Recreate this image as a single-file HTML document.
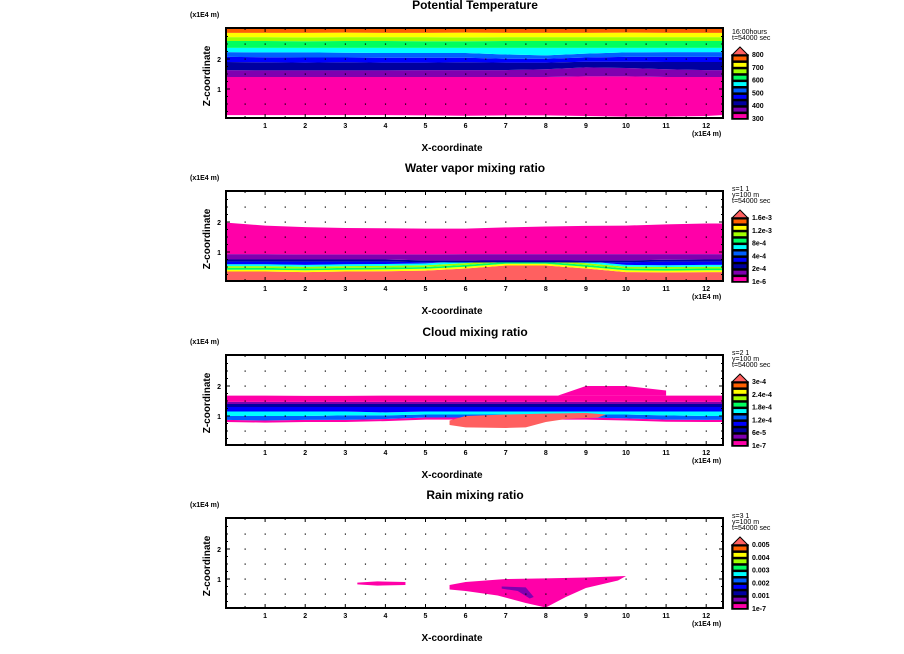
<!DOCTYPE html>
<html><head><meta charset="utf-8"><style>
html,body{margin:0;padding:0;background:#fff;}
svg{display:block;font-family:"Liberation Sans",sans-serif;}
.t{font-size:12px;font-weight:bold;}
.s{font-size:7px;font-weight:bold;}
.a{font-size:10px;font-weight:bold;}
</style></head><body>
<svg id="chart" width="904" height="654" viewBox="0 0 904 654"></svg>
<script>
// ---------- data ----------
const xs = [0,1,2,3,4,5,6,7,8,9,10,11,12,12.4];
const colors = ["#ff00a8","#8000b0","#0000a0","#0000ff","#0060ff","#00ffff","#00ff60","#a0ff00","#ffff00","#ff6000"];
const salmon = "#ff6060";
const titles = ["Potential Temperature","Water vapor mixing ratio","Cloud mixing ratio","Rain mixing ratio"];
const infoLines = [["16:00hours","t=54000 sec"],["s=1 1","y=100 m","t=54000 sec"],["s=2 1","y=100 m","t=54000 sec"],["s=3 1","y=100 m","t=54000 sec"]];
const legendLabels = [
 ["300","400","500","600","700","800"],
 ["1e-6","2e-4","4e-4","8e-4","1.2e-3","1.6e-3"],
 ["1e-7","6e-5","1.2e-4","1.8e-4","2.4e-4","3e-4"],
 ["1e-7","0.001","0.002","0.003","0.004","0.005"]
];
const xTicks = [1,2,3,4,5,6,7,8,9,10,11,12];
const zTicks = [1,2];

const p1b = [
 [0.13,0.13,0.13,0.13,0.13,0.12,0.11,0.12,0.12,0.1,0.08,0.08,0.1,0.13],
 [1.4,1.4,1.4,1.4,1.4,1.4,1.4,1.4,1.4,1.42,1.42,1.4,1.4,1.4],
 [1.63,1.62,1.62,1.62,1.62,1.63,1.63,1.63,1.66,1.72,1.7,1.66,1.63,1.63],
 [1.9,1.89,1.88,1.89,1.88,1.88,1.89,1.88,1.88,1.91,1.91,1.9,1.9,1.9],
 [2.07,2.06,2.05,2.05,2.04,2.04,2.04,2.01,2.01,2.05,2.07,2.07,2.07,2.07],
 [2.23,2.22,2.22,2.21,2.2,2.2,2.2,2.15,2.12,2.18,2.22,2.23,2.23,2.23],
 [2.37,2.37,2.37,2.37,2.37,2.37,2.37,2.37,2.37,2.37,2.37,2.37,2.37,2.37],
 [2.6,2.6,2.59,2.6,2.6,2.59,2.59,2.6,2.6,2.6,2.6,2.6,2.6,2.6],
 [2.73,2.73,2.72,2.73,2.73,2.73,2.72,2.73,2.73,2.73,2.73,2.73,2.73,2.73],
 [2.87,2.87,2.87,2.88,2.87,2.87,2.88,2.87,2.87,2.87,2.88,2.87,2.87,2.87],
 [3.03,3.03,3.03,3.03,3.03,3.03,3.03,3.03,3.03,3.03,3.03,3.03,3.03,3.03]
];
const p2Salmon = [0.35,0.35,0.33,0.35,0.36,0.38,0.45,0.55,0.55,0.45,0.33,0.32,0.33,0.33];
const p2b = [
 [0.35,0.35,0.33,0.35,0.36,0.38,0.45,0.55,0.55,0.45,0.33,0.32,0.33,0.33],
 [0.68,0.68,0.68,0.68,0.68,0.66,0.65,0.66,0.66,0.65,0.66,0.68,0.68,0.68],
 [0.75,0.75,0.75,0.75,0.75,0.72,0.72,0.72,0.72,0.72,0.72,0.74,0.75,0.75],
 [0.93,0.93,0.92,0.92,0.92,0.92,0.93,0.93,0.93,0.93,0.93,0.93,0.93,0.93],
 [1.98,1.88,1.83,1.8,1.79,1.78,1.78,1.82,1.85,1.87,1.88,1.92,1.95,1.95]
];
const p2Colors = [5,2,1,0];
const p2Thin = [8,6,7,5];
const p3b = [
 [0.87,0.85,0.87,0.87,0.9,0.95,0.95,0.95,0.95,0.95,0.92,0.88,0.87,0.87],
 [1.0,1.0,1.0,1.02,1.02,1.05,1.05,1.05,1.05,1.05,1.05,1.02,1.0,1.0],
 [1.15,1.15,1.15,1.15,1.12,1.15,1.15,1.15,1.15,1.15,1.15,1.15,1.15,1.15],
 [1.3,1.3,1.3,1.3,1.3,1.3,1.3,1.3,1.3,1.3,1.3,1.3,1.3,1.3],
 [1.4,1.4,1.4,1.4,1.4,1.4,1.4,1.4,1.4,1.4,1.4,1.4,1.4,1.4],
 [1.47,1.47,1.47,1.47,1.47,1.47,1.47,1.47,1.47,1.47,1.47,1.47,1.47,1.47],
 [1.68,1.68,1.67,1.67,1.68,1.68,1.68,1.68,1.68,1.68,1.68,1.68,1.68,1.68]
];
const p3Colors = [4,5,3,2,1,0];
const p3BlobX = [5.6,6.0,7.0,8.0,9.0,9.5,9.3,8.5,8.0,7.5,7.0,6.0,5.6];
const p3BlobZ = [0.85,1.0,1.05,1.08,1.1,1.05,0.95,0.9,0.8,0.62,0.6,0.62,0.7];
const p3LumpX = [8.3,9.0,10.0,11.0,11.0,9.5,8.3];
const p3LumpZ = [1.68,2.0,2.0,1.85,1.68,1.68,1.68];
const p4BlobX = [5.6,6.0,7.0,8.0,9.0,10.0,9.8,9.0,8.5,8.0,7.5,6.8,6.0,5.6];
const p4BlobZ = [0.8,0.9,1.0,1.02,1.05,1.1,0.95,0.7,0.4,0.05,0.2,0.45,0.6,0.65];
const p4SmallX = [3.3,3.8,4.5,4.5,3.8,3.3];
const p4SmallZ = [0.88,0.92,0.9,0.8,0.78,0.82];
const p4DarkX = [6.9,7.5,7.7,7.6,7.3,6.9];
const p4DarkZ = [0.75,0.72,0.4,0.35,0.6,0.68];

// ---------- geometry ----------
const svg = document.getElementById('chart');
const NS = "http://www.w3.org/2000/svg";
const X0 = 225, XU = 40.1, XL = 226, XR = 723;
const tops = [28, 191, 355, 518];
const H = 90, ZU = 30;
function px(x){ return X0 + x*XU; }
function pz(i,z){ return tops[i] + H - z*ZU + 1; }
function mk(tag, attrs, parent){ const e=document.createElementNS(NS,tag); for(const k in attrs) e.setAttribute(k,attrs[k]); (parent||svg).appendChild(e); return e; }
function band(i, lo, hi, fill, g){
  let pts = xs.map((x,k)=>px(x)+','+pz(i,hi[k]));
  for(let k=xs.length-1;k>=0;k--) pts.push(px(xs[k])+','+pz(i,lo[k]));
  const p = mk('polygon',{points:pts.join(' '),fill:fill},g);
  
  
}
function blob(i, bx, bz, fill, g, name){
  const p = mk('polygon',{points:bx.map((x,k)=>px(x)+','+pz(i,bz[k])).join(' '),fill:fill},g);
  
  
}
function addOff(arr, d){ return arr.map(v=>v+d); }

for(let i=0;i<4;i++){
  const g = mk('g',{});
  
  
  const clipId='c'+i;
  const cp = mk('clipPath',{id:clipId},g);
  mk('rect',{x:XL,y:tops[i],width:XR-XL,height:H},cp);
  const f = mk('g',{'clip-path':'url(#'+clipId+')'},g);
  if(i===0){
    for(let k=0;k<10;k++) band(0,p1b[k],p1b[k+1],colors[k],f);
  } else if(i===1){
    band(1,xs.map(()=>-0.1),p2Salmon,salmon,f);
    for(let k=0;k<4;k++) band(1,addOff(p2b[0],k*0.06),addOff(p2b[0],(k+1)*0.06),colors[p2Thin[k]],f);
    band(1,addOff(p2b[0],0.24),p2b[1],colors[3],f);
    for(let k=1;k<4;k++) band(1,p2b[k],p2b[k+1],colors[p2Colors[k]],f);
  } else if(i===2){
    band(2,addOff(p3b[0],-0.07),p3b[0],colors[0],f);
    for(let k=0;k<6;k++) band(2,p3b[k],p3b[k+1],colors[p3Colors[k]],f);
    blob(2,p3LumpX,p3LumpZ,colors[0],f,'cloud-upper-lump');
    blob(2,p3BlobX,p3BlobZ,salmon,f,'cloud-core');
  } else {
    blob(3,p4BlobX,p4BlobZ,colors[0],f,'rain-main');
    blob(3,p4SmallX,p4SmallZ,colors[0],f,'rain-small');
    blob(3,p4DarkX,p4DarkZ,colors[1],f,'rain-core');
  }
  for(let x=0.5;x<12.4;x+=0.5) for(let z=0.5;z<3;z+=0.5){
    mk('rect',{x:px(x)-0.5,y:pz(i,z)-0.5,width:1.2,height:1.2,fill:'#000'},g);
  }
  const fr = mk('rect',{x:XL,y:tops[i],width:XR-XL,height:H,fill:'none',stroke:'#000','stroke-width':2},g);
   
  for(let x=0.5;x<12.45;x+=0.5){
    const L = (Math.abs(x-Math.round(x))<0.01)?4:2;
    mk('line',{x1:px(x),x2:px(x),y1:tops[i]+H,y2:tops[i]+H-L,stroke:'#000'},g);
    mk('line',{x1:px(x),x2:px(x),y1:tops[i],y2:tops[i]+L,stroke:'#000'},g);
  }
  for(let z=0.25;z<3;z+=0.25){
    const L = (Math.abs(z-Math.round(z))<0.01)?4:2;
    mk('line',{x1:XL,x2:XL+L,y1:pz(i,z),y2:pz(i,z),stroke:'#000'},g);
    mk('line',{x1:XR,x2:XR-L,y1:pz(i,z),y2:pz(i,z),stroke:'#000'},g);
  }
  xTicks.forEach(v=>{ const t=mk('text',{x:px(v),y:tops[i]+H+10,'text-anchor':'middle',class:'s'},g); t.textContent=v;
      });
  zTicks.forEach(v=>{ const t=mk('text',{x:XL-5,y:pz(i,v)+3,'text-anchor':'end',class:'s'},g); t.textContent=v;
      });
  let t = mk('text',{x:475,y:tops[i]-19,'text-anchor':'middle',class:'t'},g); t.textContent=titles[i];
   
  t = mk('text',{x:190,y:tops[i]-11,class:'s'},g); t.textContent='(x1E4 m)';
   
  t = mk('text',{x:692,y:tops[i]+H+18,class:'s'},g); t.textContent='(x1E4 m)';
   
  t = mk('text',{x:452,y:tops[i]+H+33,'text-anchor':'middle',class:'a'},g); t.textContent='X-coordinate';
   
  t = mk('text',{x:0,y:0,'text-anchor':'middle',class:'a',transform:'translate(210,'+(tops[i]+48)+') rotate(-90)'},g); t.textContent='Z-coordinate';
   
  // legend
  const lg = mk('g',{},g);
   
  const ly = tops[i]+19, bh = 6.4;
  infoLines[i].forEach((s,k)=>{ const tt=mk('text',{x:732,y:tops[i]+6+k*6-(infoLines[i].length-2)*6,class:'s',style:'font-weight:normal'},lg); tt.textContent=s; });
  mk('polygon',{points:'732,'+(ly+8)+' 740,'+ly+' 748,'+(ly+8),fill:salmon,stroke:'#000'},lg);
  mk('rect',{x:732,y:ly+8,width:16,height:10*bh,fill:'#000'},lg);
  for(let k=0;k<10;k++){
    mk('rect',{x:733.5,y:ly+9.5+(9-k)*bh,width:13,height:bh-2.5,fill:colors[k]},lg);
  }
  mk('rect',{x:732,y:ly+8,width:16,height:10*bh,fill:'none',stroke:'#000','stroke-width':1.5},lg);
  legendLabels[i].forEach((s,k)=>{ const tt=mk('text',{x:752,y:ly+8+10*bh-k*2*bh+2,class:'s'},lg); tt.textContent=s; });
}
</script>
</body></html>
